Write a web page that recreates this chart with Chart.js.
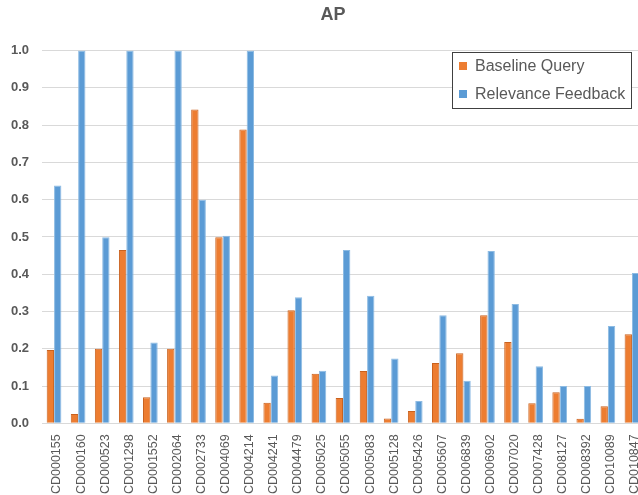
<!DOCTYPE html>
<html>
<head>
<meta charset="utf-8">
<script src="https://cdn.jsdelivr.net/npm/chart.js@4.4.0/dist/chart.umd.min.js"></script>
<style>
html,body{margin:0;padding:0;overflow:hidden;background:#fff;width:638px;height:495px;}
canvas{display:block;}
</style>
</head>
<body>
<canvas id="c" width="666" height="495" style="width:666px;height:495px"></canvas>
<script>
const categories = ["CD000155","CD000160","CD000523","CD001298","CD001552","CD002064","CD002733","CD004069","CD004214","CD004241","CD004479","CD005025","CD005055","CD005083","CD005128","CD005426","CD005607","CD006839","CD006902","CD007020","CD007428","CD008127","CD008392","CD010089","CD010847"];
const baselineQuery = [0.197,0.025,0.200,0.465,0.070,0.200,0.842,0.499,0.788,0.055,0.303,0.133,0.068,0.140,0.013,0.033,0.162,0.188,0.290,0.218,0.054,0.083,0.012,0.046,0.239];
const relevanceFeedback = [0.638,1.000,0.499,1.000,0.217,1.000,0.600,0.503,1.000,0.128,0.338,0.141,0.465,0.342,0.174,0.060,0.290,0.114,0.462,0.320,0.153,0.100,0.100,0.261,0.403];
const yTicks = [0,0.1,0.2,0.3,0.4,0.5,0.6,0.7,0.8,0.9,1.0];
const seriesNames = ["Baseline Query","Relevance Feedback"];
const chartTitle = "AP";

const FONT = "'Liberation Sans', Arial, sans-serif";

const decor = {
  id: 'decor',
  afterDraw(chart) {
    const ctx = chart.ctx;
    ctx.save();
    // title
    ctx.fillStyle = '#595959';
    ctx.font = 'bold 18px ' + FONT;
    ctx.textAlign = 'center';
    ctx.textBaseline = 'middle';
    ctx.fillText(chartTitle, 333, 15);
    // legend box
    const x0 = 452.5, y0 = 52.5, w = 179, h = 56;
    ctx.fillStyle = '#fff';
    ctx.fillRect(x0, y0, w, h);
    ctx.strokeStyle = '#404040';
    ctx.lineWidth = 1;
    ctx.strokeRect(x0, y0, w, h);
    ctx.font = '16px ' + FONT;
    ctx.textAlign = 'left';
    chart.data.datasets.forEach((ds, i) => {
      const cy = 66 + i * 28;
      ctx.fillStyle = ds.backgroundColor;
      ctx.fillRect(459, cy - 4, 8, 8);
      ctx.fillStyle = '#595959';
      ctx.fillText(ds.label, 475, cy + 1);
    });
    ctx.restore();
  }
};

new Chart(document.getElementById('c'), {
  type: 'bar',
  data: {
    labels: categories,
    datasets: [
      { label: seriesNames[0], data: baselineQuery, backgroundColor: '#ED7D31', borderColor: '#C9621F', borderWidth: 1, categoryPercentage: 0.61, barPercentage: 1.0 },
      { label: seriesNames[1], data: relevanceFeedback, backgroundColor: '#5B9BD5', borderColor: '#8DBBE3', borderWidth: 1, categoryPercentage: 0.61, barPercentage: 1.0 }
    ]
  },
  options: {
    responsive: false,
    animation: false,
    devicePixelRatio: 1,
    layout: { padding: { left: 0, right: 22, top: 50.6, bottom: 0 } },
    plugins: {
      legend: { display: false },
      tooltip: { enabled: false },
      title: { display: false }
    },
    scales: {
      x: {
        grid: { display: false },
        border: { display: true, color: '#D9D9D9', width: 1 },
        ticks: {
          color: '#595959', font: { family: FONT, size: 12.5 },
          minRotation: 90, maxRotation: 90, padding: 3, autoSkip: false, labelOffset: 3
        },
        afterFit(scale) { scale.height = 71.7; }
      },
      y: {
        min: 0, max: 1,
        afterBuildTicks(scale) { scale.ticks = yTicks.map(v => ({ value: v })); },
        grid: { color: '#D9D9D9', lineWidth: 1, drawTicks: false },
        border: { display: false },
        ticks: {
          color: '#595959', font: { family: FONT, size: 13, weight: 'bold' },
          padding: 13,
          callback: v => Number(v).toFixed(1)
        },
        afterFit(scale) { scale.width = 42; }
      }
    }
  },
  plugins: [decor]
});
</script>
</body>
</html>
